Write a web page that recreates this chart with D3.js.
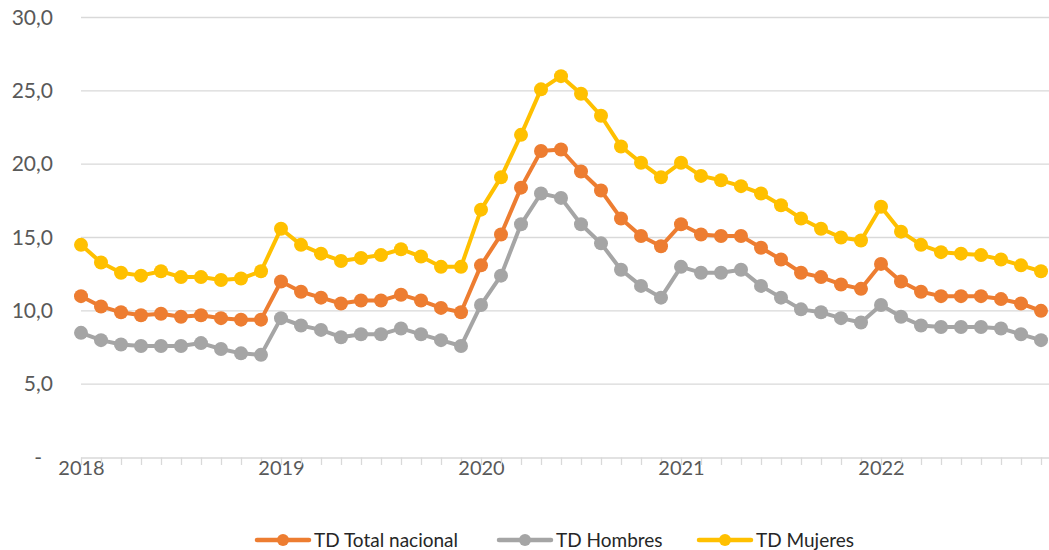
<!DOCTYPE html>
<html>
<head>
<meta charset="utf-8">
<script src="https://cdn.jsdelivr.net/npm/d3@7"></script>
<style>
  body { margin: 0; background: #fff; }
  svg { display: block; font-family: Lato, "Open Sans", sans-serif; }
</style>
</head>
<body>
<svg width="1049" height="550"></svg>
<script>
'use strict';
// one point per period, year label every 10 points
const YEARS = ['2018', '2019', '2020', '2021', '2022'];
const PER_YEAR = 10;

const total = [11.0, 10.3, 9.9, 9.7, 9.8, 9.6, 9.7, 9.5, 9.4, 9.4,
  12.0, 11.3, 10.9, 10.5, 10.7, 10.7, 11.1, 10.7, 10.2, 9.9,
  13.1, 15.2, 18.4, 20.9, 21.0, 19.5, 18.2, 16.3, 15.1, 14.4,
  15.9, 15.2, 15.1, 15.1, 14.3, 13.5, 12.6, 12.3, 11.8, 11.5,
  13.2, 12.0, 11.3, 11.0, 11.0, 11.0, 10.8, 10.5, 10.0];
const hombres = [8.5, 8.0, 7.7, 7.6, 7.6, 7.6, 7.8, 7.4, 7.1, 7.0,
  9.5, 9.0, 8.7, 8.2, 8.4, 8.4, 8.8, 8.4, 8.0, 7.6,
  10.4, 12.4, 15.9, 18.0, 17.7, 15.9, 14.6, 12.8, 11.7, 10.9,
  13.0, 12.6, 12.6, 12.8, 11.7, 10.9, 10.1, 9.9, 9.5, 9.2,
  10.4, 9.6, 9.0, 8.9, 8.9, 8.9, 8.8, 8.4, 8.0];
const mujeres = [14.5, 13.3, 12.6, 12.4, 12.7, 12.3, 12.3, 12.1, 12.2, 12.7,
  15.6, 14.5, 13.9, 13.4, 13.6, 13.8, 14.2, 13.7, 13.0, 13.0,
  16.9, 19.1, 22.0, 25.1, 26.0, 24.8, 23.3, 21.2, 20.1, 19.1,
  20.1, 19.2, 18.9, 18.5, 18.0, 17.2, 16.3, 15.6, 15.0, 14.8,
  17.1, 15.4, 14.5, 14.0, 13.9, 13.8, 13.5, 13.1, 12.7];

const series = [
  { name: 'TD Total nacional', values: total, color: '#ED7D31' },
  { name: 'TD Hombres', values: hombres, color: '#A5A5A5' },
  { name: 'TD Mujeres', values: mujeres, color: '#FFC000' }
];

const svg = d3.select('svg');
const W = 1049;
const plotLeft = 81, plotTop = 17.5, plotBottom = 457.5;

const x = d3.scaleLinear().domain([0, total.length - 1]).range([plotLeft, 1041]);
const y = d3.scaleLinear().domain([0, 30]).range([plotBottom, plotTop]);

// gridlines
svg.append('g')
  .selectAll('line')
  .data(d3.range(5, 31, 5))
  .join('line')
    .attr('x1', plotLeft).attr('x2', W)
    .attr('y1', d => y(d)).attr('y2', d => y(d))
    .attr('stroke', '#d9d9d9')
    .attr('stroke-width', 1.3);

// y axis labels
const yAxis = svg.append('g')
  .attr('transform', `translate(${plotLeft - 28},0)`)
  .call(d3.axisLeft(y)
    .tickValues(d3.range(0, 31, 5))
    .tickSize(0)
    .tickPadding(0)
    .tickFormat(d => d === 0 ? '-' : d3.format('.1f')(d).replace('.', ',')));
yAxis.select('.domain').remove();
yAxis.selectAll('text')
  .attr('fill', '#595959')
  .attr('font-size', 21)
  .attr('font-family', 'Lato, sans-serif')
  .attr('x', d => d === 0 ? -11 : 0);

// x axis
const xAxis = svg.append('g')
  .attr('transform', `translate(0,${plotBottom})`)
  .call(d3.axisBottom(x)
    .tickValues(d3.range(total.length))
    .tickSize(7.5)
    .tickFormat(i => i % PER_YEAR === 0 ? YEARS[i / PER_YEAR] : ''));
xAxis.select('.domain')
  .attr('d', `M${plotLeft},0.5H${W}`)
  .attr('stroke', '#d9d9d9')
  .attr('stroke-width', 1.3);
xAxis.selectAll('.tick line')
  .attr('stroke', '#d9d9d9')
  .attr('stroke-width', 1.3);
xAxis.selectAll('.tick text')
  .attr('y', 3)
  .attr('fill', '#595959')
  .attr('font-size', 20)
  .attr('font-family', 'Lato, sans-serif');

// series
const line = d3.line().x((d, i) => x(i)).y(d => y(d));
series.forEach(s => {
  const g = svg.append('g');
  g.append('path')
    .attr('d', line(s.values))
    .attr('fill', 'none')
    .attr('stroke', s.color)
    .attr('stroke-width', 4)
    .attr('stroke-linejoin', 'round');
  g.selectAll('circle')
    .data(s.values)
    .join('circle')
      .attr('cx', (d, i) => x(i))
      .attr('cy', d => y(d))
      .attr('r', 7)
      .attr('fill', s.color);
});

// legend
const legendX = [255, 497, 697];
const legend = svg.append('g').attr('transform', 'translate(0,540)');
series.forEach((s, k) => {
  const g = legend.append('g').attr('transform', `translate(${legendX[k]},0)`);
  g.append('line')
    .attr('x1', 2).attr('x2', 54)
    .attr('stroke', s.color)
    .attr('stroke-width', 4.5)
    .attr('stroke-linecap', 'round');
  g.append('circle').attr('cx', 28).attr('r', 6).attr('fill', s.color);
  g.append('text')
    .attr('x', 59)
    .attr('dy', '0.36em')
    .attr('font-size', 19)
    .attr('fill', '#262626')
    .text(s.name);
});
</script>
</body>
</html>
